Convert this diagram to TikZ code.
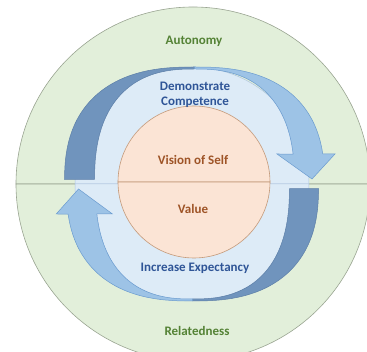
\documentclass[tikz,border=0pt]{standalone}
\usepackage{fontspec}
\setmainfont{Carlito}
\definecolor{ringfill}{HTML}{E2EFDA}
\definecolor{ringline}{HTML}{9AA592}
\definecolor{ringtext}{HTML}{548235}
\definecolor{discfill}{HTML}{DDEBF7}
\definecolor{discline}{HTML}{AFC6DE}
\definecolor{selffill}{HTML}{FBE4D5}
\definecolor{selfline}{HTML}{C49A7A}
\definecolor{selftext}{HTML}{9E5427}
\definecolor{cycletext}{HTML}{2F5597}
\definecolor{arrowlight}{HTML}{9DC3E6}
\definecolor{arrowlightline}{HTML}{6A9BCF}
\definecolor{arrowdark}{HTML}{7094BD}
\definecolor{arrowdarkline}{HTML}{5D7FA8}

\begin{document}
\begin{tikzpicture}[x=1pt, y=1pt, font=\bfseries\fontsize{13}{15}\selectfont,
    ring/.style={fill=ringfill, draw=ringline, line width=0.6pt},
    disc/.style={fill=discfill, draw=discline, line width=0.5pt},
    self/.style={fill=selffill, draw=selfline, line width=0.6pt},
    band/.style={fill=arrowdark, draw=arrowdarkline, line width=0.5pt},
    head/.style={fill=arrowlight, draw=arrowlightline, line width=0.5pt}]
  \clip (-193,-168) rectangle (174,184);
  \path[ring] (177,0) arc[start angle=0, end angle=180, radius=177] -- cycle;
  \path[ring] (-177,0) arc[start angle=180, end angle=360, radius=177] -- cycle;
  \path[disc] (116,0) arc[start angle=0, end angle=180, radius=117] -- cycle;
  \path[disc] (-118,0) arc[start angle=180, end angle=360, radius=117] -- cycle;
  \foreach \r/\c/\s in {0/1.5/1, 180/0.5/0.97} {
    \begin{scope}[rotate=\r, shift={(\c,0)}, xscale=\s]
      \path[band] plot[domain=179:90, samples=40] ({-130*(abs(cos(\x))+0.00001)^0.8}, {117*(sin(\x))^0.8})
        -- plot[domain=90:179, samples=40] ({-100*(abs(cos(\x))+0.00001)^0.8}, {115*(sin(\x))^0.8}) -- cycle;
      \path[head] plot[domain=90:10.5, samples=40] ({130*(abs(cos(\x))+0.00001)^0.8}, {117*(sin(\x))^0.8})
        -- (140.5,30) -- (117.5,5) -- (82.5,30)
        -- plot[domain=10.7:90, samples=40] ({100*(abs(cos(\x))+0.00001)^0.8}, {115*(sin(\x))^0.8}) -- cycle;
    \end{scope}
  }
  \path[self] (77,2) arc[start angle=0, end angle=180, radius=76] -- cycle;
  \path[self] (-75,2) arc[start angle=180, end angle=360, radius=76] -- cycle;
  \node [text=ringtext]                    (autonomy) at (1,143)   {Autonomy};
  \node [text=ringtext]                    (related)  at (4,-147)  {Relatedness};
  \node [text=cycletext, align=center]     (demo)     at (2,89)    {Demonstrate\\Competence};
  \node [text=cycletext]                   (expect)   at (2,-84)   {Increase Expectancy};
  \node [text=selftext]                    (vision)   at (0,24)    {Vision of Self};
  \node [text=selftext]                    (value)    at (0,-25)   {Value};
\end{tikzpicture}
\end{document}
